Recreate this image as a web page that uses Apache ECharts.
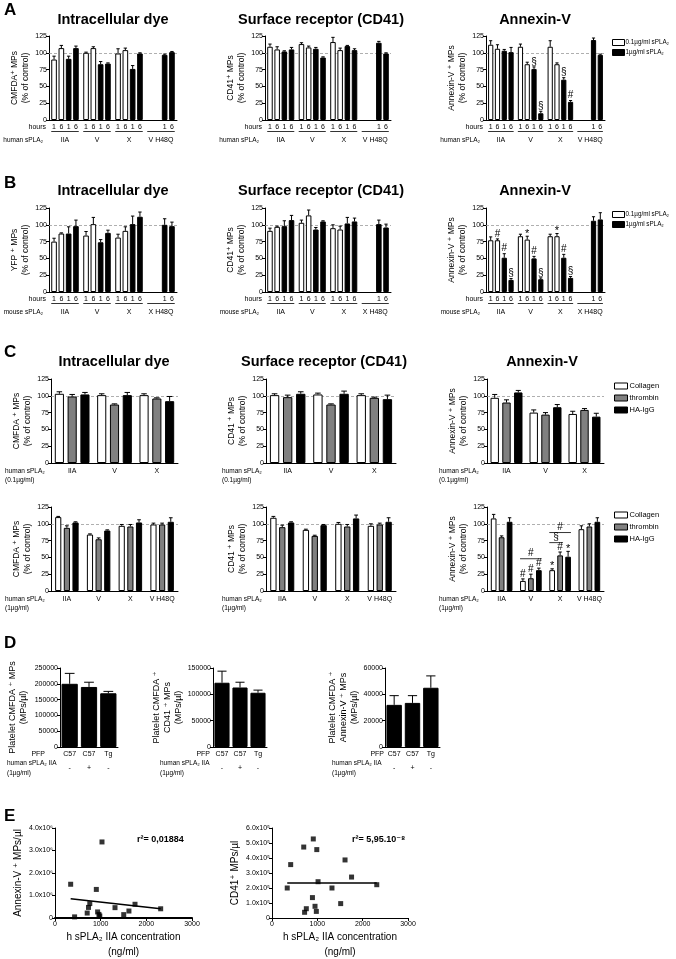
<!DOCTYPE html>
<html><head><meta charset="utf-8">
<script src="https://cdn.jsdelivr.net/npm/echarts@6/dist/echarts.min.js"></script>
<style>html,body{margin:0;padding:0;background:#fff}#c{width:676px;height:959px}</style>
</head><body><div id="c"></div><script>
// ---------------- DATA ----------------
const groupsHuman = ['IIA','V','X','V H48Q'];
const groupsMouse = ['IIA','V','X','X H48Q'];
const hourTicks = ['1','6','1','6'];
const doseNames = ['0.1µg/ml sPLA₂','0.1µg/ml sPLA₂','1µg/ml sPLA₂','1µg/ml sPLA₂'];

// series order: 0.1µg 1h, 0.1µg 6h, 1µg 1h, 1µg 6h ; groups IIA, V, X, H48Q
const A1_vals = [[90,100,99,null],[107,107,104,null],[91,83,76,97],[107,84,99,101]];
const A1_errs = [[5,1,7,null],[4,2,3,null],[4,4,5,1],[3,1,1,1]];
const A2_vals = [[109,113,116,null],[105,108,104,null],[102,106,110,115],[105,93,104,99]];
const A2_errs = [[4,2,7,null],[4,2,3,null],[1,2,1,2],[3,1,2,1]];
const A3_vals = [[112,109,109,null],[106,83,83,null],[103,76,60,119],[101,10,27,97]];
const A3_errs = [[6,4,9,null],[6,3,2,null],[2,3,3,3],[7,3,2,1]];
const A3_marks = [['','','',''],['','','',''],['','§','§',''],['','§','#','']];

const B1_vals = [[75,84,81,null],[87,101,91,null],[87,74,101,100],[98,88,112,98]];
const B1_errs = [[5,6,5,null],[1,10,6,null],[10,4,12,9],[9,4,7,6]];
const B2_vals = [[91,103,95,null],[97,114,93,null],[98,93,102,101],[107,105,105,96]];
const B2_errs = [[4,4,5,null],[1,8,5,null],[8,3,9,6],[7,1,5,5]];
const B3_vals = [[77,83,83,null],[77,78,83,null],[51,50,51,106],[18,19,21,108]];
const B3_errs = [[5,3,3,null],[2,5,4,null],[6,3,5,6],[2,2,2,10]];
const B3_marks = [['','','',''],['#','*','*',''],['#','#','#',''],['§','§','§','']];

const groupsC01 = ['IIA','V','X'];
const stimNames = ['Collagen','thrombin','HA-IgG'];
const C1t_vals = [[103,101,101],[99,87,96],[102,101,92]];
const C1t_errs = [[3,2,2],[3,1,1],[3,4,7]];
const C2t_vals = [[101,102,101],[98,87,97],[103,103,95]];
const C2t_errs = [[2,2,2],[3,1,1],[3,4,6]];
const C3t_vals = [[97,75,73],[90,72,79],[105,83,69]];
const C3t_errs = [[5,4,4],[4,3,2],[3,4,5]];

const C1b_vals = [[110,84,97,99],[94,77,96,99],[102,90,102,103]];
const C1b_errs = [[1,1,2,2],[3,2,3,2],[1,1,4,6]];
const C2b_vals = [[109,91,100,97],[95,82,96,99],[102,98,108,103]];
const C2b_errs = [[2,1,2,3],[3,1,3,2],[1,1,5,6]];
const C3b_vals = [[108,15,31,92],[80,19,53,96],[103,31,51,103]];
const C3b_errs = [[6,3,2,5],[2,6,5,4],[6,3,8,6]];
const C3b_marks = [['','#','*',''],['','#','#',''],['','#','*','']];
// brackets: [group, level], label, from bar, to bar
const C3b_brackets = [[1,48],[2,72],[2,87]];
const C3b_bracketText = ['#','§','#'];
const C3b_bracketSpan = [[0,2],[0,1],[0,2]];

const D_cats = ['C57','C57','Tg'];
const D_signs = ['-','+','-'];
const D1_vals = [200000,190000,170000], D1_errs = [33000,15000,6000];
const D2_vals = [122000,113000,103000], D2_errs = [22000,10000,5000];
const D3_vals = [32000,33500,45000],   D3_errs = [7000,5500,9000];

const E1_points = [[343,1.50e6],[429,0.05e6],[705,0.22e6],[733,0.47e6],[762,0.64e6],[905,1.27e6],[933,0.27e6],[962,0.16e6],[981,0.09e6],[1029,3.38e6],[1314,0.46e6],[1505,0.15e6],[1619,0.31e6],[1752,0.61e6],[2314,0.41e6]];
const E1_fit = [[343,0.86e6],[2314,0.41e6]];
const E2_points = [[336,2.0e5],[412,3.56e5],[700,4.73e5],[719,0.38e5],[757,0.62e5],[911,5.27e5],[892,1.36e5],[949,0.78e5],[978,0.44e5],[988,4.56e5],[1016,2.42e5],[1323,2.0e5],[1515,0.96e5],[1611,3.87e5],[1755,2.73e5],[2311,2.22e5]];
const E2_fit = [[336,2.33e5],[2311,2.33e5]];

// ---------------- BUILD ----------------
const FONT = '"Liberation Sans", Arial, "DejaVu Sans", sans-serif';
const option = {animation:false, textStyle:{fontFamily:FONT}, grid:[], xAxis:[], yAxis:[], series:[], legend:[], graphic:[]};
const WHITE = {color:'#fff', border:1}, GRAY = {color:'#808080', border:1}, BLACK = {color:'#000', border:1};

function addGrid(g){ option.grid.push(Object.assign({outerBoundsMode:'none', containLabel:false}, g)); return option.grid.length-1; }

function errRender(k,n,cg,bg,marks){
  return function(params, api){
    const ci = api.value(0), v = api.value(1), e = api.value(2);
    const p0 = api.coord([ci, v]); const p1 = api.coord([ci, v+e]);
    const band = api.size([1,0])[0];
    const rem = band*(1-cg); const w = rem/(n+(n-1)*bg);
    const x = p0[0] - rem/2 + w/2 + k*w*(1+bg);
    const cap = Math.max(1.5, w*0.3);
    const ch = [
      {type:'line', shape:{x1:x,y1:p0[1],x2:x,y2:p1[1]}, style:{stroke:'#000', lineWidth:1}},
      {type:'line', shape:{x1:x-cap,y1:p1[1],x2:x+cap,y2:p1[1]}, style:{stroke:'#000', lineWidth:1}}
    ];
    const m = marks ? marks[params.dataIndex] : '';
    if(m) ch.push({type:'text', x:x, y:p1[1]+(m==='*'?3:0), style:{text:m, align:'center', verticalAlign:'bottom', font:(m==='*'?'11px ':'10px ')+FONT, fill:'#000'}});
    return {type:'group', children:ch};
  };
}

function barPanel(p){
  const gi = addGrid({left:p.left, top:p.top, width:p.width, height:p.height});
  const xi = option.xAxis.push({gridIndex:gi, type:'category', data:p.cats,
    axisLine:{lineStyle:{color:'#000',width:1}}, axisTick:{show:false},
    axisLabel:{fontSize:7, color:'#000', margin:p.catMargin, interval:0, lineHeight:p.catLH||8, formatter:p.catFmt},
    splitLine:{show:false}}) - 1;
  const yi = option.yAxis.push({gridIndex:gi, type:'value', min:0, max:p.yMax, interval:p.yInt,
    name:p.yName, nameLocation:'middle', nameGap:p.nameGap,
    nameTextStyle:{fontSize:p.nameFont||8.5, color:'#000', lineHeight:p.nameLH||11, fontFamily:FONT},
    axisLine:{show:true, lineStyle:{color:'#000'}}, axisTick:{show:true, length:3, lineStyle:{color:'#000'}},
    axisLabel:{fontSize:7, color:'#000', margin:2, formatter:(v)=>String(v)}, splitLine:{show:false}}) - 1;
  const n = p.vals.length;
  p.vals.forEach((vs,k)=>{
    const st = p.styles[k];
    const s = {type:'bar', name:p.names ? p.names[k] : undefined, xAxisIndex:xi, yAxisIndex:yi, data:vs,
      barCategoryGap:(p.catGap*100)+'%', barGap:(p.barGap*100)+'%', silent:true,
      itemStyle:{color:st.color, borderColor:'#000', borderWidth:st.border}};
    if(p.hours) s.label = {show:true, position:'bottom', distance:p.hourDist, formatter:p.hours[k], fontSize:7, color:'#000', fontFamily:FONT};
    if(k===0 && p.ref) s.markLine = {silent:true, symbol:'none', label:{show:false}, z:1,
      lineStyle:{color:'#9a9a9a', type:[3,2], width:0.8}, data:[{yAxis:p.ref}]};
    option.series.push(s);
  });
  p.vals.forEach((vs,k)=>{
    const data=[], marks=[];
    vs.forEach((v,i)=>{ if(v!=null && p.errs[k][i]!=null){ data.push([i,v,p.errs[k][i]]); marks.push(p.marks ? p.marks[k][i] : ''); } });
    option.series.push({type:'custom', xAxisIndex:xi, yAxisIndex:yi, data, silent:true, z:3,
      renderItem: errRender(k,n,p.catGap,p.barGap,marks)});
  });
  if(p.underline){
    option.series.push({type:'custom', xAxisIndex:xi, yAxisIndex:yi, silent:true, data:p.cats.map((c,i)=>[i,0]),
      renderItem:(params,api)=>{ const c=api.coord([api.value(0),0]); const band=api.size([1,0])[0]; const rem=band*(1-p.catGap);
        return {type:'line', shape:{x1:c[0]-rem/2, y1:c[1]+p.underline, x2:c[0]+rem/2, y2:c[1]+p.underline}, style:{stroke:'#000', lineWidth:0.8}}; }});
  }
  if(p.brackets){
    option.series.push({type:'custom', xAxisIndex:xi, yAxisIndex:yi, silent:true, z:4, data:p.brackets,
      renderItem:(params,api)=>{
        const ci=api.value(0), lv=api.value(1); const c=api.coord([ci,lv]);
        const band=api.size([1,0])[0]; const rem=band*(1-p.catGap); const w=rem/(n+(n-1)*p.barGap);
        const sp=p.bracketSpan[params.dataIndex];
        const xl=c[0]-rem/2+sp[0]*w*(1+p.barGap); const xr=c[0]-rem/2+sp[1]*w*(1+p.barGap)+w;
        return {type:'group', children:[
          {type:'line', shape:{x1:xl,y1:c[1],x2:xr,y2:c[1]}, style:{stroke:'#000', lineWidth:0.8}},
          {type:'text', x:(xl+xr)/2, y:c[1]-0.5, style:{text:p.bracketText[params.dataIndex], align:'center', verticalAlign:'bottom', font:'10px '+FONT, fill:'#000'}}
        ]};
      }});
  }
  return gi;
}

function txt(x,y,text,size,opts){
  opts = opts||{};
  option.graphic.push({type:'text', x:x, y:y, silent:true, style:{text:text, font:(opts.bold?'bold ':'')+size+'px '+FONT,
    fill:'#000', align:opts.align||'left', verticalAlign:'middle'}});
}

// ---- Panels A and B ----
const abStyles = [WHITE, WHITE, BLACK, BLACK];
const abCols = [{left:49,width:128},{left:265,width:126},{left:486,width:119}];
const titles = ['Intracellular dye','Surface receptor (CD41)','Annexin-V'];
const titleX = [113,321,535];

function abRow(top, cats, sets, yNames, rowLabel){
  sets.forEach((s,j)=>{
    barPanel({left:abCols[j].left, width:abCols[j].width, top:top, height:84, cats:cats,
      vals:s[0], errs:s[1], marks:s[2], styles:abStyles, names:doseNames, catGap:0.14, barGap:0.3,
      yMax:125, yInt:25, yName:yNames[j], nameGap:15, ref:100, hours:hourTicks, hourDist:3.5,
      underline:11.5, catMargin:16.5});
    txt(abCols[j].left-3, top+84+7, 'hours', 7, {align:'right'});
    txt(abCols[j].left-6, top+84+20, rowLabel, 6.5, {align:'right'});
  });
}
abRow(36, groupsHuman, [[A1_vals,A1_errs,null],[A2_vals,A2_errs,null],[A3_vals,A3_errs,A3_marks]],
  ['CMFDA⁺ MPs\n(% of control)','CD41⁺ MPs\n(% of control)','Annexin-V ⁺ MPs\n(% of control)'], 'human sPLA₂');
abRow(208, groupsMouse, [[B1_vals,B1_errs,null],[B2_vals,B2_errs,null],[B3_vals,B3_errs,B3_marks]],
  ['YFP ⁺ MPs\n(% of control)','CD41⁺ MPs\n(% of control)','Annexin-V ⁺ MPs\n(% of control)'], 'mouse sPLA₂');

titles.forEach((t,j)=>{ txt(titleX[j],20,t,14.5,{bold:true,align:'center'}); txt(titleX[j],191,t,14.5,{bold:true,align:'center'}); });
[['A',10],['B',183],['C',352],['D',643],['E',816]].forEach(l=>txt(4,l[1],l[0],17,{bold:true}));

const legBase = {orient:'vertical', icon:'rect', itemWidth:12, itemHeight:6, itemGap:3, selectedMode:false, padding:0,
  itemStyle:{borderColor:'#000', borderWidth:1}, textStyle:{fontSize:6.3, color:'#000', fontFamily:FONT, padding:[0,0,0,-4]}};
option.legend.push(Object.assign({}, legBase, {left:612, top:39, data:['0.1µg/ml sPLA₂','1µg/ml sPLA₂']}));
option.legend.push(Object.assign({}, legBase, {left:612, top:211, data:['0.1µg/ml sPLA₂','1µg/ml sPLA₂']}));

// ---- Panel C ----
const cStyles = [WHITE, GRAY, BLACK];
const cCols = [{left:51,width:127},{left:266,width:130},{left:487,width:117}];
const cNames = ['CMFDA ⁺ MPs\n(% of control)','CD41 ⁺ MPs\n(% of control)','Annexin-V ⁺ MPs\n(% of control)'];
const cTitleX = [114,324,542];
const cLabelX = [5,222,439];
function cRow(top, cats, sets, conc, catGap){
  sets.forEach((s,j)=>{
    barPanel({left:cCols[j].left, width:cCols[j].width, top:top, height:84, cats:cats,
      vals:s[0], errs:s[1], marks:s[2], styles:cStyles, names:stimNames, catGap:catGap, barGap:0.4,
      yMax:125, yInt:25, yName:cNames[j], nameGap:16, ref:100, catMargin:4,
      brackets:s[3], bracketText:C3b_bracketText, bracketSpan:C3b_bracketSpan});
    txt(cLabelX[j], top+84+8, 'human sPLA₂', 6.5);
    txt(cLabelX[j], top+84+17, conc, 6.5);
  });
}
cRow(379, groupsC01, [[C1t_vals,C1t_errs,null],[C2t_vals,C2t_errs,null],[C3t_vals,C3t_errs,null]], '(0.1µg/ml)', 0.18);
cRow(507, groupsHuman, [[C1b_vals,C1b_errs,null],[C2b_vals,C2b_errs,null],[C3b_vals,C3b_errs,C3b_marks,C3b_brackets]], '(1µg/ml)', 0.26);
titles.forEach((t,j)=>txt(cTitleX[j],362,t,14.5,{bold:true,align:'center'}));
const legC = Object.assign({}, legBase, {itemWidth:13, itemHeight:6, itemGap:4, textStyle:Object.assign({}, legBase.textStyle, {fontSize:7.5, padding:[0,0,0,-3]})});
option.legend.push(Object.assign({}, legC, {left:614, top:382, data:stimNames}));
option.legend.push(Object.assign({}, legC, {left:614, top:511, data:stimNames}));

// ---- Panel D ----
const dCols = [{left:60,width:58,max:250000,int:50000,gap:31,name:'Platelet CMFDA ⁺ MPs\n(MPs/µl)'},
               {left:213,width:54,max:150000,int:50000,gap:25,name:'Platelet CMFDA ⁺\nCD41 ⁺ MPs\n(MPs/µl)'},
               {left:385,width:55,max:60000,int:20000,gap:24,name:'Platelet CMFDA ⁺\nAnnexin-V ⁺ MPs\n(MPs/µl)'}];
const dSets = [[D1_vals,D1_errs],[D2_vals,D2_errs],[D3_vals,D3_errs]];
const dPFPx = [45,210,384], dLabX = [7,160,332];
dCols.forEach((c,j)=>{
  barPanel({left:c.left, width:c.width, top:668, height:79, cats:D_cats, vals:[dSets[j][0]], errs:[dSets[j][1]],
    styles:[BLACK], catGap:0.16, barGap:0, yMax:c.max, yInt:c.int, yName:c.name, nameGap:c.gap, nameFont:9, nameLH:11,
    catMargin:4, catLH:7, catFmt:(v,i)=>v+'\n\n'+D_signs[i]});
  txt(dPFPx[j], 754, 'PFP', 7, {align:'right'});
  txt(dLabX[j], 763, 'human sPLA₂ IIA', 6.5);
  txt(dLabX[j], 773, '(1µg/ml)', 6.5);
});

// ---- Panel E ----
function scatterPanel(p){
  const gi = addGrid({left:p.left, top:828, width:p.width, height:90});
  const xi = option.xAxis.push({gridIndex:gi, type:'value', min:0, max:3000, interval:1000,
    name:'h sPLA₂ IIA concentration\n(ng/ml)', nameLocation:'middle', nameGap:12,
    nameTextStyle:{fontSize:10, lineHeight:15, color:'#000', fontFamily:FONT},
    axisLine:{show:true, onZero:false, lineStyle:{color:'#000', width:p.xw}}, axisTick:{show:true, length:3, lineStyle:{color:'#000'}},
    axisLabel:{fontSize:7, color:'#000', margin:3, formatter:(v)=>String(v)}, splitLine:{show:false}}) - 1;
  const yi = option.yAxis.push({gridIndex:gi, type:'value', min:0, max:p.ymax, interval:p.yint,
    name:p.yName, nameLocation:'middle', nameGap:32, nameTextStyle:{fontSize:10, color:'#000', fontFamily:FONT},
    axisLine:{show:true, lineStyle:{color:'#000'}}, axisTick:{show:true, length:3, lineStyle:{color:'#000'}},
    axisLabel:{fontSize:7, color:'#000', margin:2, formatter:p.fmt}, splitLine:{show:false}}) - 1;
  option.series.push({type:'scatter', xAxisIndex:xi, yAxisIndex:yi, data:p.points, symbol:'rect', symbolSize:5, itemStyle:{color:'#000'}, silent:true});
  option.series.push({type:'line', xAxisIndex:xi, yAxisIndex:yi, data:p.fit, showSymbol:false, symbol:'none', lineStyle:{color:'#000', width:1.5}, silent:true});
}
scatterPanel({left:55, width:137, ymax:4e6, yint:1e6, xw:2, yName:'Annexin-V ⁺ MPs/µl', points:E1_points, fit:E1_fit,
  fmt:v=>v===0?'0':(v/1e6).toFixed(1)+'x10⁶'});
scatterPanel({left:272, width:136, ymax:6e5, yint:1e5, xw:1, yName:'CD41⁺ MPs/µl', points:E2_points, fit:E2_fit,
  fmt:v=>v===0?'0':(v/1e5).toFixed(1)+'x10⁵'});
txt(137, 840, 'r²= 0,01884', 9, {bold:true});
txt(352, 840, 'r²= 5,95.10⁻⁸', 9, {bold:true});

const chart = echarts.init(document.getElementById('c'), null, {renderer:'canvas'});
chart.setOption(option);
</script></body></html>
